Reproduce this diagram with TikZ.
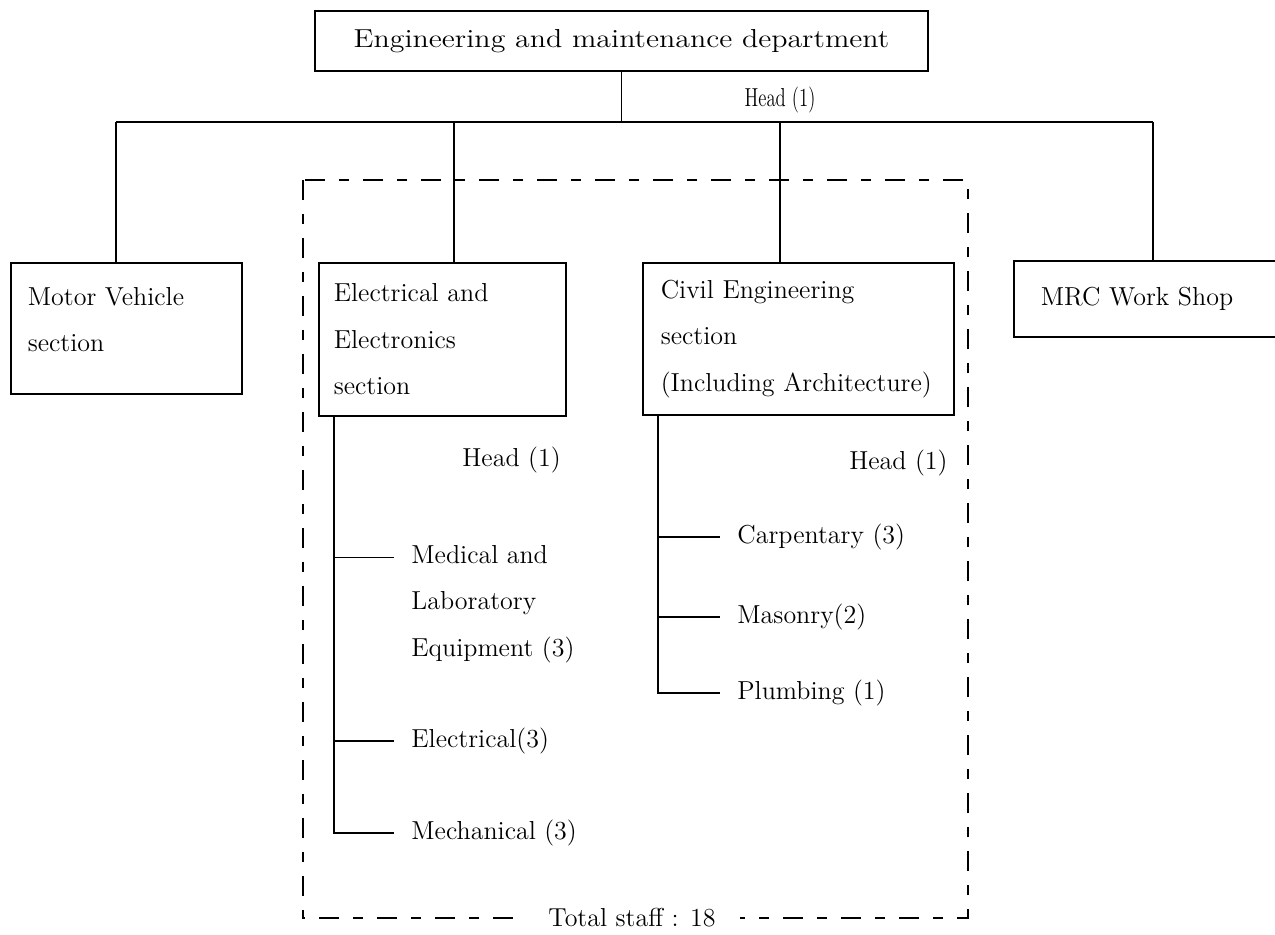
\documentclass[tikz,border=0pt]{standalone}
\usepackage{fontspec}
\usepackage{graphicx}
\begin{document}
\begin{tikzpicture}[x=0.5pt,y=-0.5pt,
  every node/.style={font=\fontsize{13}{23.2}\selectfont, inner sep=0pt},
  ln/.style={line width=0.8pt},
  box/.style={draw, line width=0.8pt, anchor=north west, align=left},
  lbl/.style={anchor=west, align=left},
  staffline/.style={line width=0.8pt, dash pattern=on 10pt off 7pt on 5pt off 7pt}
]
\useasboundingbox (0,0) rectangle (1275,934);

% dashed staff frame
\draw[staffline] (303,180) rectangle (968,918);
\node[fill=white, inner xsep=12pt, inner ysep=1pt] (total) at (632,918) {Total staff : 18};

% top box
\node[box, anchor=center, align=center, minimum width=306.5pt, minimum height=30pt] (top) at (621.5,41)
  {\scalebox{1.15}[1]{Engineering and maintenance department}};
\node (head0) at (780,100) {\scalebox{0.72}[1]{Head (1)}};

% section boxes
\node[box, align=none, minimum width=115.5pt, minimum height=65.5pt, inner xsep=8.5pt, anchor=north west] (mv) at (10,262)
  {\raisebox{4.5pt}[\height][\depth]{\parbox{98.5pt}{\baselineskip=23.2pt Motor Vehicle\\section}}};
\node[box, minimum width=123.5pt, minimum height=76.5pt, inner xsep=7.5pt, text width=108.5pt] (ee) at (318,262)
  {Electrical and\\Electronics\\section};
\node[box, minimum width=155.5pt, minimum height=76pt, inner xsep=9pt, text width=137.5pt] (ce) at (642,262)
  {Civil Engineering\\section\\(Including Architecture)};
\node[box, minimum width=143.5pt, minimum height=38pt, inner xsep=13.5pt, text width=116.5pt] (mrc) at (1013,260)
  {MRC Work Shop};

% bus
\coordinate (busL) at (116,122);
\coordinate (busR) at (1153,122);
\coordinate (dE) at (454,122);
\coordinate (dC) at (780,122);
\draw[ln] (top.south) -- (top.south |- busL);
\draw[ln] (busL) -- (busR);
\draw[ln] (busL) -- (busL |- mv.north);
\draw[ln] (dE) -- (dE |- ee.north);
\draw[ln] (dC) -- (dC |- ce.north);
\draw[ln] (busR) -- (busR |- mrc.north);

% electrical subtree
\node[lbl] (eh) at (462,460) {Head (1)};
\node[lbl] (med) at (411,604) {Medical and\\Laboratory\\Equipment (3)};
\node[lbl] (el) at (411,741) {Electrical(3)};
\node[lbl] (mech) at (411,833) {Mechanical (3)};
\coordinate (eStem) at ([xshift=8pt]ee.south west);
\coordinate (medJ) at ([xshift=-8.5pt,yshift=23.2pt]med.west);
\draw[ln] (eStem) |- ([xshift=-8.5pt]mech.west);
\draw[ln] (eStem |- medJ) -- (medJ);
\draw[ln] (eStem |- el.west) -- ([xshift=-8.5pt]el.west);

% civil subtree
\node[lbl, anchor=east] (ch) at (948,463) {Head (1)};
\node[lbl] (carp) at (737,537) {Carpentary (3)};
\node[lbl] (mas) at (737,617) {Masonry(2)};
\node[lbl] (plu) at (737,693) {Plumbing (1)};
\coordinate (cStem) at ([xshift=8pt]ce.south west);
\draw[ln] (cStem) |- ([xshift=-8.5pt]plu.west);
\draw[ln] (cStem |- carp.west) -- ([xshift=-8.5pt]carp.west);
\draw[ln] (cStem |- mas.west) -- ([xshift=-8.5pt]mas.west);
\end{tikzpicture}
\end{document}
